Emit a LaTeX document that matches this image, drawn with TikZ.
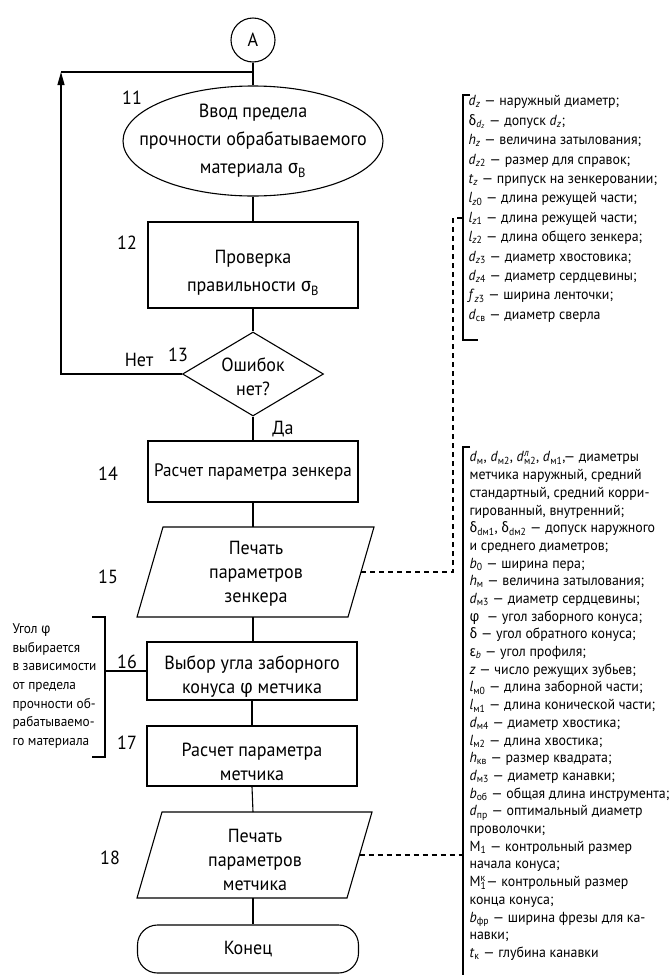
\documentclass[tikz,border=0pt]{standalone}
\usepackage{fontspec}
\setmainfont{PT Sans}[FakeStretch=0.95]
\newfontfamily\grk{Fira Sans}[FakeStretch=0.92]
\usetikzlibrary{shapes.geometric,arrows.meta}
\newcommand{\G}[1]{{\grk #1}}
\newcommand{\vsb}[2]{\textit{#1}\textsubscript{#2}}
\newcommand{\vsbsp}[3]{\textit{#1}\rlap{\textsuperscript{#3}}\textsubscript{#2}}
\tikzset{
  x=1pt,y=-1pt,
  every path/.style={line width=1.1pt},
  mainfont/.style={font=\fontsize{19}{24}\selectfont},
  mtext/.style={mainfont,align=center,inner sep=0pt},
  procbox/.style={draw,minimum width=210pt,inner sep=0pt},
  lbl/.style={font=\fontsize{19}{24}\selectfont,inner sep=0pt},
  ann/.style={font=\fontsize{14.6}{17.7}\selectfont,align=left,inner sep=0pt},
  link/.style={line width=1.1pt},
  dlink/.style={line width=1.1pt,dash pattern=on 5pt off 4pt},
}
\begin{document}
\begin{tikzpicture}
\useasboundingbox (0,0) rectangle (672,975);
% connector A
\node[draw,circle,minimum size=44pt,inner sep=0pt,mainfont] (A) at (253,40) {А};
% 11
\node[draw,ellipse,minimum width=260pt,minimum height=110pt,inner sep=0pt] (n11) at (253,141) {};
\node[mtext,font=\fontsize{19}{28}\selectfont] at (253,141) {Ввод предела\\прочности обрабатываемого\\материала \G{σ}\textsubscript{B}};
\node[lbl] (l11) at (132,98) {11};
% 12
\node[procbox,minimum height=86pt] (n12) at (253,265) {};
\node[mtext,font=\fontsize{19}{28}\selectfont] at (253,273) {Проверка\\правильности \G{σ}\textsubscript{B}};
\node[lbl] (l12) at (127,243) {12};
% 13
\node[draw,diamond,minimum width=141pt,minimum height=84pt,inner sep=0pt] (n13) at (253,374) {};
\node[mtext] at (253,377) {Ошибок\\нет?};
\node[lbl] (l13) at (178,355) {13};
\node[lbl] (net) at (139,360) {Нет};
\node[lbl] (da) at (283,429) {Да};
% 14
\node[procbox,minimum height=61pt,font=\fontsize{18}{24}\selectfont] (n14) at (253,471.5) {Расчет параметра зенкера};
\node[lbl] (l14) at (108,474) {14};
% 15 parallelogram
\draw (137,617) -- (163,527) -- (374,527) -- (348,617) -- cycle;
\coordinate (n15t) at (253,527);
\coordinate (n15b) at (253,617);
\coordinate (n15r) at (361,572);
\node[mtext] (t15) at (256,574) {Печать\\параметров\\зенкера};
\node[lbl] (l15) at (108,577) {15};
% 16
\node[procbox,minimum height=58pt] (n16) at (252,671) {};
\node[mtext] at (252,677) {Выбор угла заборного\\конуса \G{φ} метчика};
\node[lbl] (l16) at (127,662) {16};
% 17
\node[procbox,minimum height=60pt] (n17) at (252,756) {};
\node[mtext] at (252,762) {Расчет параметра\\метчика};
\node[lbl] (l17) at (127,743) {17};
% 18 parallelogram
\draw (137,898) -- (162,812) -- (372,812) -- (347,898) -- cycle;
\coordinate (n18t) at (253,812);
\coordinate (n18b) at (253,898);
\coordinate (n18r) at (359.5,855);
\node[mtext] (t18) at (255,860) {Печать\\параметров\\метчика};
\node[lbl] (l18) at (110,858) {18};
% 19 terminator
\node[draw,rounded corners=20pt,minimum width=221pt,minimum height=48pt,mainfont] (n19) at (248,949) {Конец};
% main connectors
\draw[link] (A.south) -- (n11.north);
\draw[link] (n11.south) -- (n12.north);
\draw[link] (n12.south) -- (n13.north);
\draw[link] (n13.south) -- (n14.north);
\draw[link] (n14.south) -- (n15t);
\draw[link] (n15b) -- (n15b |- n16.north);
\draw[link] (n16.south) -- (n17.north);
\draw[link] (n17.south) -- (n18t);
\draw[link] (n18b) -- (n18b |- n19.north);
% loop back
\coordinate (lp1) at (61,374);
\coordinate (lp2) at (61,72);
\coordinate (lp3) at (253,72);
\draw[link,-{Triangle[length=13pt,width=7pt]}] (n13.west) -- (lp1) -- (lp2);
\draw[link] (lp2) -- (lp3);
% top annotation
\coordinate (b1t) at (470,95);
\coordinate (b1a) at (463,95);
\coordinate (b1b) at (463,340);
\coordinate (b1c) at (478,340);
\draw[link] (b1t) -- (b1a) -- (b1b) -- (b1c);
\coordinate (b1m) at (463,218);
\coordinate (dk1) at (453,572);
\coordinate (dk2) at (453,218);
\draw[dlink] (n15r) -- (dk1) -- (dk2) -- (b1m);
\node[ann,anchor=north west,font=\fontsize{14.6}{19.4}\selectfont] (ann1) at (468,95) {%
\vsb{d}{\textit{z}} — наружный диаметр;\\
\G{δ}\textsubscript{\textit{d}\textsubscript{\textit{z}}} — допуск \vsb{d}{\textit{z}};\\
\vsb{h}{\textit{z}} — величина затылования;\\
\vsb{d}{\textit{z}2} — размер для справок;\\
\vsb{t}{\textit{z}} — припуск на зенкеровании;\\
\vsb{l}{\textit{z}0} — длина режущей части;\\
\vsb{l}{\textit{z}1} — длина режущей части;\\
\vsb{l}{\textit{z}2} — длина общего зенкера;\\
\vsb{d}{\textit{z}3} — диаметр хвостовика;\\
\vsb{d}{\textit{z}4} — диаметр сердцевины;\\
\vsb{f}{\textit{z}3} — ширина ленточки;\\
\vsb{d}{св} — диаметр сверла};
% bottom annotation
\coordinate (b2t) at (470,447);
\coordinate (b2a) at (463,447);
\coordinate (b2b) at (463,975);
\draw[link] (b2t) -- (b2a) -- (b2b);
\coordinate (b2m) at (463,855);
\draw[dlink] (n18r) -- (b2m);
\node[ann,anchor=north west] (ann2) at (469,451) {%
\vsb{d}{м}, \vsb{d}{м2}, \vsbsp{d}{м2}{\textit{л}}, \vsb{d}{м1},— диаметры\\
метчика наружный, средний\\
стандартный, средний корри-\\
гированный, внутренний;\\
\G{δ}\textsubscript{dм1}, \G{δ}\textsubscript{dм2} — допуск наружного\\
и среднего диаметров;\\
\vsb{b}{0} — ширина пера;\\
\vsb{h}{м} — величина затылования;\\
\vsb{d}{м3} — диаметр сердцевины;\\
\G{φ}\ \ — угол заборного конуса;\\
\G{δ} — угол обратного конуса;\\
\G{ε}\textsubscript{\textit{b}} — угол профиля;\\
\textit{z} — число режущих зубьев;\\
\vsb{l}{м0} — длина заборной части;\\
\vsb{l}{м1} — длина конической части;\\
\vsb{d}{м4} — диаметр хвостика;\\
\vsb{l}{м2} — длина хвостика;\\
\vsb{h}{кв} — размер квадрата;\\
\vsb{d}{м3} — диаметр канавки;\\
\vsb{b}{об} — общая длина инструмента;\\
\vsb{d}{пр} — оптимальный диаметр\\
проволочки;\\
М\textsubscript{1} — контрольный размер\\
начала конуса;\\
М\rlap{\textsuperscript{к}}\textsubscript{1}— контрольный размер\\
конца конуса;\\
\vsb{b}{фр} — ширина фрезы для ка-\\
навки;\\
\vsb{t}{к} — глубина канавки};
% left annotation
\coordinate (b3t) at (92,617);
\coordinate (b3a) at (105,617);
\coordinate (b3b) at (105,757);
\coordinate (b3c) at (92,757);
\draw[link] (b3t) -- (b3a) -- (b3b) -- (b3c);
\coordinate (b3m) at (105,671);
\draw[link] (b3m) -- (n16.west);
\node[ann,anchor=north west,font=\fontsize{14}{18.7}\selectfont] (ann3) at (12,623) {%
Угол \G{φ}\\
выбирается\\
в зависимости\\
от предела\\
прочности об-\\
рабатываемо-\\
го материала};
\end{tikzpicture}
\end{document}
